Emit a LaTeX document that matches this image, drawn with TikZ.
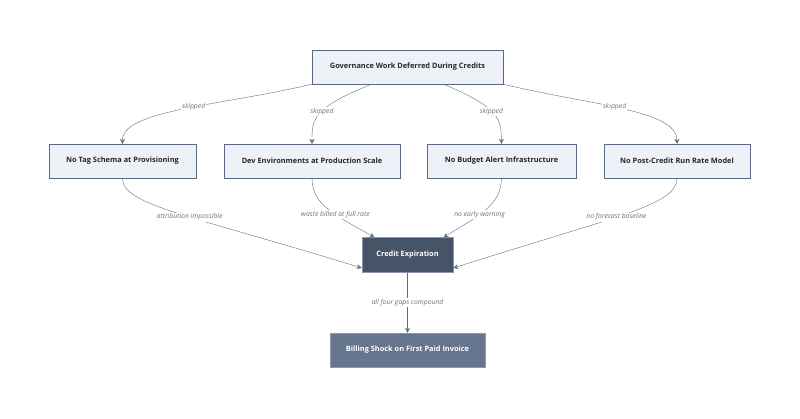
\documentclass[tikz,border=0pt]{standalone}
\usepackage{fontspec}
\setmainfont{Open Sans}
\usetikzlibrary{arrows.meta,positioning}
\definecolor{boxfill}{HTML}{EEF2F8}
\definecolor{boxline}{HTML}{5A6A85}
\definecolor{darkfill}{HTML}{465468}
\definecolor{midfill}{HTML}{66758E}
\definecolor{edgecol}{HTML}{5F6E87}
\definecolor{labcol}{HTML}{6B7280}

\begin{document}
\begin{tikzpicture}[x=1pt, y=-1pt, align=center,
    gap/.style={draw=boxline, fill=boxfill, font=\bfseries\fontsize{7.4}{9}\selectfont, text=black!85, inner sep=0pt},
    hub/.style={draw=boxline!70, fill=darkfill, font=\bfseries\fontsize{7.4}{9}\selectfont, text=white, inner sep=0pt},
    result/.style={draw=boxline!70, fill=midfill, font=\bfseries\fontsize{7.4}{9}\selectfont, text=white, inner sep=0pt},
    flow/.style={draw=edgecol, -{Stealth[length=5pt,width=5pt]}},
    lbl/.style={fill=white, font=\itshape\fontsize{6.8}{8}\selectfont, text=labcol, inner sep=1pt}]
    \useasboundingbox (0,0) rectangle (800,418);
    % top
    \node(deferred) [gap, minimum width=191pt, minimum height=34pt] at (407.5,67) {Governance Work Deferred During Credits};

    % gaps
    \node(notag)    [gap, minimum width=147pt, minimum height=34pt] at (122.5,161) {No Tag Schema at Provisioning};
    \node(devenv)   [gap, minimum width=176pt, minimum height=34pt] at (312,161)   {Dev Environments at Production Scale};
    \node(nobudget) [gap, minimum width=149pt, minimum height=34pt] at (501.5,161) {No Budget Alert Infrastructure};
    \node(norate)   [gap, minimum width=146pt, minimum height=34pt] at (677,161)   {No Post-Credit Run Rate Model};

    % outcome
    \node(expiry)   [hub, minimum width=91pt, minimum height=35pt]     at (407.5,255) {Credit Expiration};
    \node(shock)    [result, minimum width=155pt, minimum height=34pt] at (407.5,350) {Billing Shock on First Paid Invoice};

    % skipped
    \draw [flow] (deferred.south west) .. controls (220,106) and (122,110) .. node [lbl, pos=0.45] {skipped} (notag.north);
    \draw [flow] ([xshift=-36pt]deferred.south) .. controls (312,108) and (312,120) .. node [lbl, pos=0.45] {skipped} (devenv.north);
    \draw [flow] ([xshift=36pt]deferred.south) .. controls (501,108) and (501,120) .. node [lbl, pos=0.45] {skipped} (nobudget.north);
    \draw [flow] (deferred.south east) .. controls (595,106) and (677,110) .. node [lbl, pos=0.45] {skipped} (norate.north);

    % into expiration
    \draw [flow] (notag.south) .. controls (122,205) and (190,215) .. node [lbl, pos=0.55] {attribution impossible} ([yshift=-13pt]expiry.west);
    \draw [flow] (devenv.south) .. controls (312,205) and (335,215) .. node [lbl, pos=0.6] {waste billed at full rate} ([xshift=-33pt]expiry.north);
    \draw [flow] (nobudget.south) .. controls (501,205) and (480,215) .. node [lbl, pos=0.6] {no early warning} ([xshift=36pt]expiry.north);
    \draw [flow] (norate.south) .. controls (677,205) and (620,215) .. node [lbl, pos=0.55] {no forecast baseline} ([yshift=-13pt]expiry.east);

    \draw [flow] (expiry) to node [lbl] {all four gaps compound} (shock);
\end{tikzpicture}
\end{document}
